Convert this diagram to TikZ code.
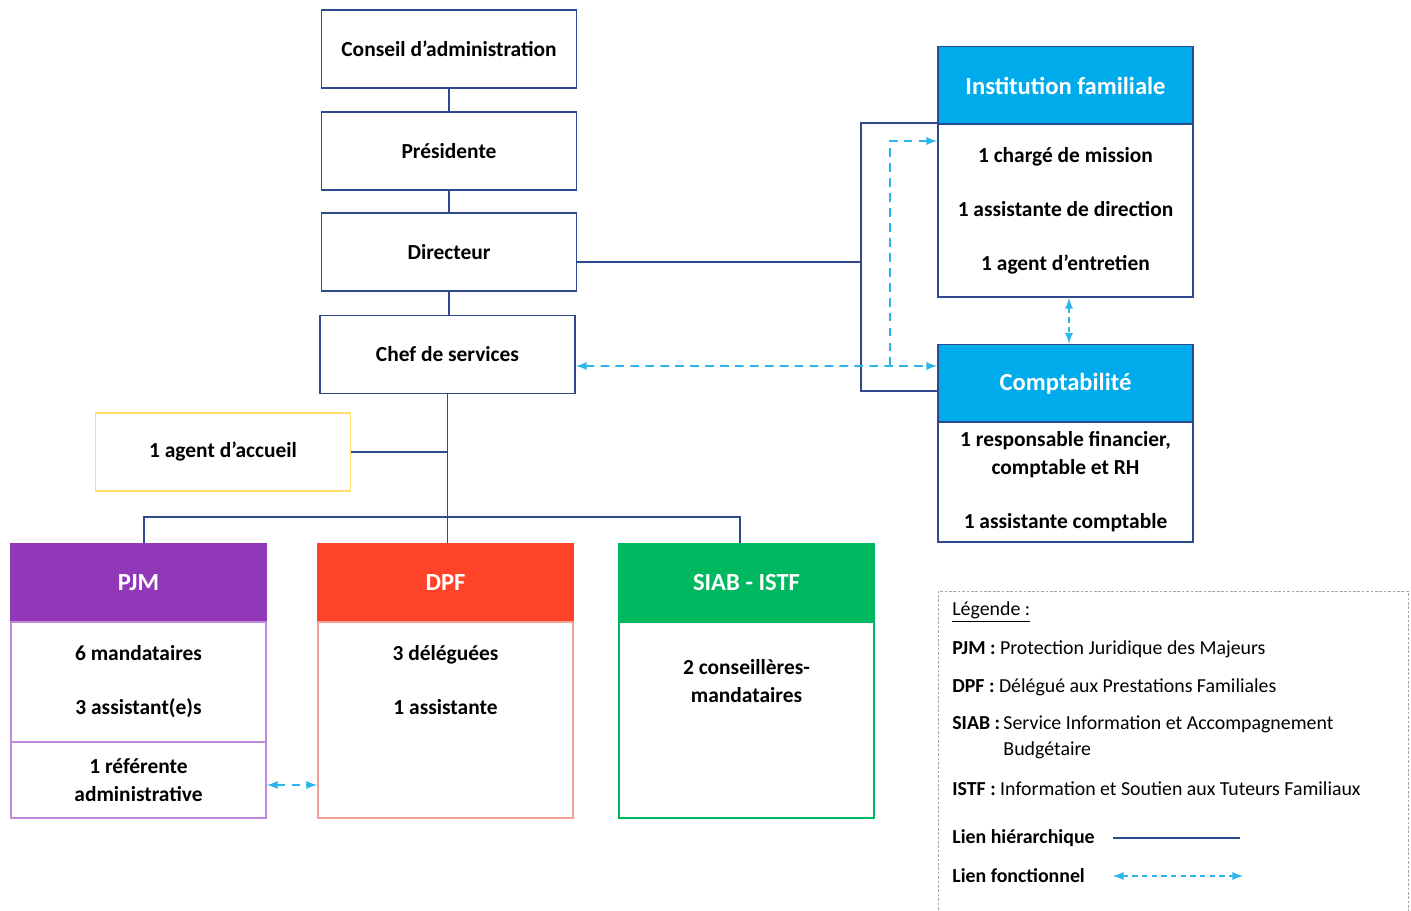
\documentclass[tikz,border=0pt]{standalone}
\usepackage{fontspec}
\setmainfont{Carlito}
\definecolor{navy}{HTML}{2F4A8C}
\definecolor{cyanhead}{HTML}{00ABEB}
\definecolor{purplehead}{HTML}{9038B8}
\definecolor{purpleline}{HTML}{C08ADB}
\definecolor{redhead}{HTML}{FF4328}
\definecolor{redline}{HTML}{F2A093}
\definecolor{greenhead}{HTML}{00B85F}
\definecolor{yellowline}{HTML}{FFE066}
\definecolor{funcblue}{HTML}{2CB5EA}
\begin{document}
\begin{tikzpicture}[x=0.02cm,y=-0.02cm]
\tikzstyle{box} = [draw=navy,line width=1.1pt,minimum width=5.1cm,minimum height=1.56cm,inner sep=0pt,align=center,font=\bfseries\fontsize{12.2}{16}\selectfont];
\tikzstyle{head} = [box,text=white,font=\bfseries\fontsize{14}{17}\selectfont];
\tikzstyle{txt} = [align=center,font=\bfseries\fontsize{12.2}{16}\selectfont];
\tikzstyle{hier} = [draw=navy,line width=1.1pt];
\tikzstyle{func} = [<->,>=latex,draw=funcblue,line width=1.1pt,dash pattern=on 5pt off 3.5pt];
\tikzstyle{legtxt} = [anchor=west,inner sep=0pt,font=\fontsize{11.3}{15}\selectfont];
\useasboundingbox (0,0) rectangle (1411,911);

% direction
\node [box] (conseil) at (449,49) {Conseil d'administration};
\node [box] (pres) at (449,151) {Présidente};
\node [box] (dir) at (449,252) {Directeur};
\node [box] (chef) at (447.5,354.5) {Chef de services};
\node [box,draw=yellowline] (accueil) at (223,452) {1 agent d'accueil};

% services
\node [head,fill=purplehead,draw=purplehead] (pjm) at (138.5,582.5) {PJM};
\node [box,draw=purpleline,minimum height=2.4cm] (pjmb) at (138.5,682) {6 mandataires\\[0.52cm]3 assistant(e)s};
\node [box,draw=purpleline,minimum height=1.52cm] (pjmr) at (138.5,780) {1 référente\\administrative};
\node [head,fill=redhead,draw=redhead] (dpf) at (445.5,582.5) {DPF};
\node [box,draw=redline,minimum height=3.92cm] (dpfb) at (445.5,720) {};
\node [txt] (dpft) at (445.5,680) {3 déléguées\\[0.52cm]1 assistante};
\node [head,fill=greenhead,draw=greenhead] (siab) at (746.5,582.5) {SIAB - ISTF};
\node [box,draw=greenhead,minimum height=3.92cm] (siabb) at (746.5,720) {};
\node [txt] (siabt) at (746.5,681) {2 conseillères-\\mandataires};

% institution et comptabilite
\node [head,fill=cyanhead] (inst) at (1065.5,85.5) {Institution familiale};
\node [box,minimum height=3.46cm] (instb) at (1065.5,210.5) {1 chargé de mission\\[0.52cm]1 assistante de direction\\[0.52cm]1 agent d'entretien};
\node [head,fill=cyanhead] (compta) at (1065.5,383.5) {Comptabilité};
\node [box,minimum height=2.4cm] (comptab) at (1065.5,482) {1 responsable financier,\\comptable et RH\\[0.52cm]1 assistante comptable};

% liens hierarchiques
\draw [hier] (conseil) -- (pres);
\draw [hier] (pres) -- (dir);
\draw [hier] (dir.south) -- (dir.south |- chef.north);
\draw [hier] (chef) -- (chef |- dpf.north);
\draw [hier] (accueil.east) -- (accueil.east -| chef);
\coordinate (bus) at (446,517);
\draw [hier] ([xshift=0.11cm]pjm.north) |- (bus) -| ([xshift=-0.13cm]siab.north);
\coordinate (split) at (861,262);
\coordinate (trunk) at (861,391);
\draw [hier] (split -| dir.east) -- (split);
\draw [hier] (instb.north west) -| (trunk) -- (trunk -| compta.west);

% liens fonctionnels
\draw [func] ([yshift=-0.23cm]chef.east) -- ([yshift=0.35cm]compta.west);
\coordinate (fork) at (890,366);
\draw [func,<-] ([yshift=1.39cm]instb.west) -| (fork);
\draw [func,dash pattern=on 3pt off 2.5pt] ([xshift=0.07cm]instb.south) -- ([xshift=0.07cm]compta.north);
\draw [func] ([yshift=-0.1cm]pjmr.east) -- ([yshift=-0.1cm]pjmr.east -| dpfb.west);

% legende
\node [draw=gray!70,dash pattern=on 1.5pt off 1pt,minimum width=9.4cm,minimum height=6.6cm,inner sep=0pt] (legend) at (1173,756) {};
\node [legtxt] (lleg) at (952,612) {\underline{Légende :}};
\node [legtxt] (lpjm) at (952,649) {\textbf{PJM :} Protection Juridique des Majeurs};
\node [legtxt] (ldpf) at (952,687) {\textbf{DPF :} Délégué aux Prestations Familiales};
\node [legtxt] (lsiab) at (952,737.5) {\begin{tabular}{@{}l@{\,}l@{}}\textbf{SIAB :} & Service Information et Accompagnement\\ & Budgétaire\end{tabular}};
\node [legtxt] (listf) at (952,789) {\textbf{ISTF :} Information et Soutien aux Tuteurs Familiaux};
\node [legtxt,font=\bfseries\fontsize{11.3}{15}\selectfont] (lhier) at (952,838) {Lien hiérarchique};
\node [legtxt,font=\bfseries\fontsize{11.3}{15}\selectfont] (lfonc) at (952,876) {Lien fonctionnel};
\draw [hier] (lhier.east -| 1113,0) -- (lhier.east -| 1240,0);
\draw [func,dash pattern=on 3pt off 2.5pt] (lfonc.east -| 1113,0) -- (lfonc.east -| 1243,0);
\end{tikzpicture}
\end{document}
